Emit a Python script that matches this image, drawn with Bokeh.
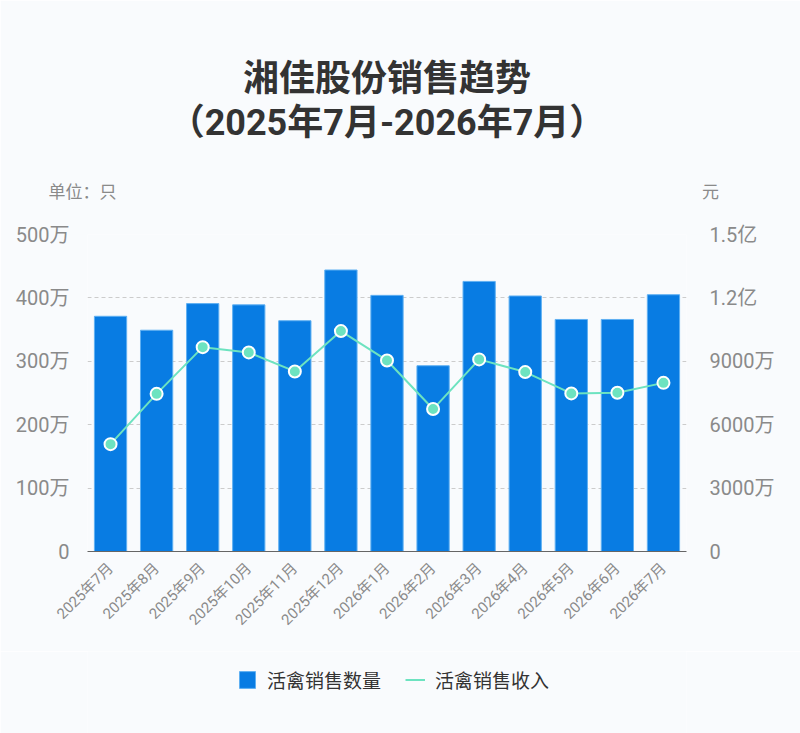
import math
from bokeh.plotting import figure
from bokeh.models import (Range1d, LinearAxis, FixedTicker, Legend, LegendItem, Title,
                          ColumnDataSource, FactorRange)
from bokeh.layouts import column
from bokeh.embed import file_html
from bokeh.resources import INLINE

months = ["2025年7月", "2025年8月", "2025年9月", "2025年10月", "2025年11月", "2025年12月",
          "2026年1月", "2026年2月", "2026年3月", "2026年4月", "2026年5月", "2026年6月", "2026年7月"]
qty_wan = [371, 349, 391, 389, 364, 444, 404, 293, 426, 403, 366, 366, 405]
revenue_wan = [5080, 7460, 9670, 9420, 8520, 10430, 9040, 6740, 9090, 8490, 7480, 7510, 7980]

left_ticks = [0, 100, 200, 300, 400, 500]
left_labels = ["0", "100万", "200万", "300万", "400万", "500万"]
right_ticks = [0, 3000, 6000, 9000, 12000, 15000]
right_labels = ["0", "3000万", "6000万", "9000万", "1.2亿", "1.5亿"]

title_line1 = "湘佳股份销售趋势"
title_line2 = "（2025年7月-2026年7月）"
unit_left = "单位：只"
unit_right = "元"
legend_bar = "活禽销售数量"
legend_line = "活禽销售收入"

BG = "#f9fbfd"
BAR = "#087ce3"
BAR_EDGE = "#5fb0f2"
LINE = "#6de3c0"
FONT = "Roboto, 'Noto Sans CJK SC', sans-serif"
CJK = "'Noto Sans CJK SC', sans-serif"

src = ColumnDataSource(dict(m=months, q=qty_wan, r=revenue_wan))

p = figure(x_range=FactorRange(*months), y_range=Range1d(0, 500),
           frame_width=599, frame_height=317,
           output_backend="svg", toolbar_location=None,
           background_fill_color=BG, border_fill_color=BG,
           min_border_left=87, min_border_right=114, min_border_top=234, min_border_bottom=100)
p.outline_line_color = None
p.extra_y_ranges = {"rev": Range1d(0, 15000)}

p.vbar(x="m", top="q", width=0.7, source=src, fill_color=BAR,
       line_color=BAR_EDGE, line_width=1)
p.line(x="m", y="r", source=src, y_range_name="rev", line_color=LINE, line_width=2)
p.scatter(x="m", y="r", source=src, y_range_name="rev", size=12, fill_color=LINE,
          line_color="white", line_width=2)

ya = p.yaxis[0]
ya.ticker = FixedTicker(ticks=left_ticks)
ya.major_label_overrides = {t: l for t, l in zip(left_ticks, left_labels)}
ya.axis_line_color = None
ya.major_tick_line_color = None
ya.minor_tick_line_color = None
ya.major_label_text_color = "#8a8a8a"
ya.major_label_text_font = FONT
ya.major_label_text_font_size = "20px"
ya.major_label_standoff = 12

ra = LinearAxis(y_range_name="rev", ticker=FixedTicker(ticks=right_ticks))
ra.major_label_overrides = {t: l for t, l in zip(right_ticks, right_labels)}
ra.axis_line_color = None
ra.major_tick_line_color = None
ra.minor_tick_line_color = None
ra.major_label_text_color = "#8a8a8a"
ra.major_label_text_font = FONT
ra.major_label_text_font_size = "20px"
ra.major_label_standoff = 17
p.add_layout(ra, "right")

xa = p.xaxis[0]
xa.major_label_orientation = math.pi / 4
xa.axis_line_color = "#666666"
xa.major_tick_line_color = None
xa.minor_tick_line_color = None
xa.major_label_text_color = "#8a8a8a"
xa.major_label_text_font = FONT
xa.major_label_text_font_size = "15px"
xa.major_label_standoff = 8

p.xgrid.grid_line_color = None
p.ygrid.grid_line_color = "#cccccc"
p.ygrid.grid_line_dash = "4 3"
p.ygrid.ticker = FixedTicker(ticks=left_ticks[1:])

# titles stack outward from the frame: unit row, title line 2, title line 1
p.title = None
unit_row = unit_left + "\u3000" * 34 + "\u00a0\u00a0" + unit_right
p.add_layout(Title(text=unit_row, align="left", offset=-39, text_font=CJK,
                   text_font_size="17px", text_font_style="normal", text_color="#8a8a8a",
                   standoff=64), "above")
p.add_layout(Title(text=title_line2, align="center", text_font=FONT, text_font_size="36px",
                   text_font_style="bold", text_color="#333333", standoff=0), "above")
p.add_layout(Title(text=title_line1, align="center", text_font=FONT, text_font_size="36px",
                   text_font_style="bold", text_color="#333333", standoff=0), "above")

# ---------- footer holding the legend ----------
FOOT_H = 82
foot = figure(width=800, height=FOOT_H, x_range=FactorRange(*months), y_range=Range1d(0, 1),
              x_axis_location=None, y_axis_location=None,
              output_backend="svg", toolbar_location=None,
              background_fill_color=BG, border_fill_color=BG, min_border=0)
foot.outline_line_color = None
foot.grid.grid_line_color = None
fb = foot.vbar(x="m", top="q", width=0.7, source=src, fill_color=BAR,
               line_color=BAR_EDGE, line_width=1, visible=False)
fl = foot.line(x="m", y="r", source=src, line_color=LINE, line_width=2, visible=False)

legend = Legend(items=[LegendItem(label=legend_bar, renderers=[fb]),
                       LegendItem(label=legend_line, renderers=[fl])],
                orientation="horizontal", location=(150, 40),
                background_fill_color=BG, background_fill_alpha=0.0, border_line_color=None,
                label_text_font=CJK, label_text_font_size="19px",
                label_text_color="#333333",
                glyph_width=20, glyph_height=21, label_height=21, spacing=24, label_standoff=10,
                margin=0, padding=6)
foot.add_layout(legend, "center")

layout = column(p, foot, spacing=0)
open("out.html", "w").write(file_html(layout, INLINE))
